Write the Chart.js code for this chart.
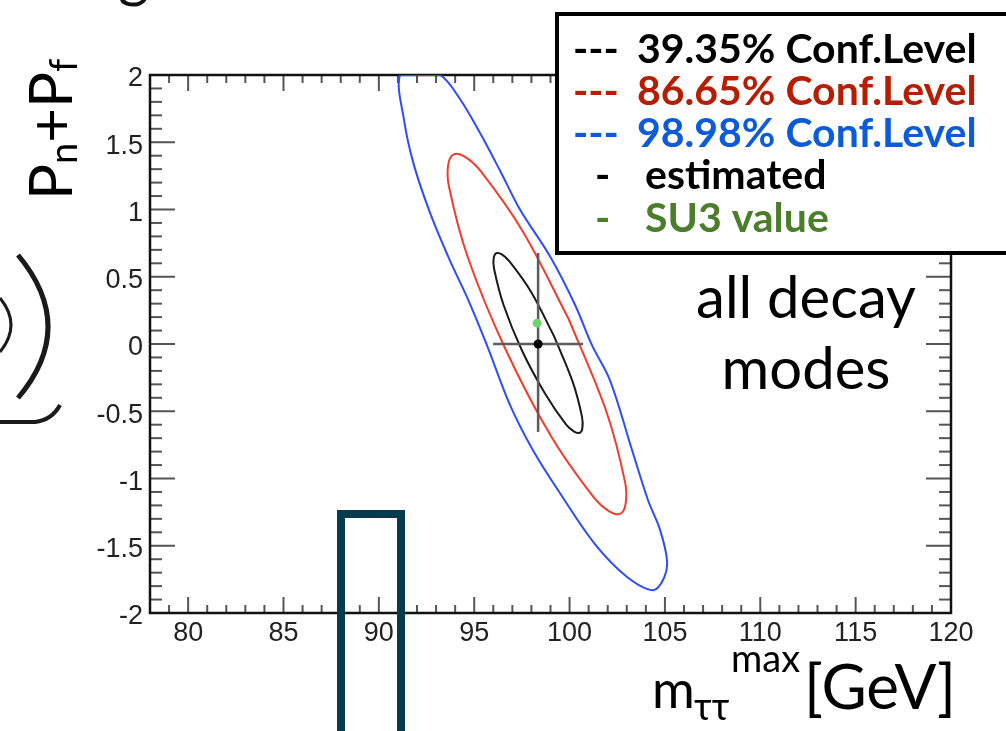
<!DOCTYPE html>
<html>
<head>
<meta charset="utf-8">
<script src="https://cdn.jsdelivr.net/npm/chart.js@4.4.1/dist/chart.umd.min.js"></script>
<style>
  html, body { margin: 0; padding: 0; background: #fff; }
  #wrap { width: 1006px; height: 731px; position: relative; overflow: hidden; }
</style>
</head>
<body>
<div id="wrap"><canvas id="contours" width="1006" height="731"></canvas></div>
<script>
// axis ranges and labelled ticks
const xRange = [78, 120];
const yRange = [-2, 2];
const xTicks = [80, 85, 90, 95, 100, 105, 110, 115, 120];
const yTicks = [-2, -1.5, -1, -0.5, 0, 0.5, 1, 1.5, 2];

// contour outlines, [m_tautau max (GeV), Pn+Pf]
const cl39 = [
    [99.18, 0.06], [100.16, -0.28], [100.65, -0.54], [100.67, -0.627], [100.53, -0.66],
    [100.24, -0.651], [99.82, -0.60], [98.72, -0.37], [97.51, -0.05], [96.54, 0.29],
    [96.04, 0.56], [96.02, 0.638], [96.16, 0.675], [96.45, 0.666], [96.87, 0.61],
    [97.97, 0.39], [99.18, 0.06]
];
const cl86 = [
    [99.96, 0.184], [101.92, -0.498], [102.91, -1.027], [102.94, -1.187], [102.67, -1.261],
    [102.08, -1.244], [101.25, -1.137], [99.04, -0.688], [96.63, -0.035], [94.66, 0.647],
    [93.67, 1.175], [93.64, 1.336], [93.92, 1.41], [94.50, 1.393], [95.34, 1.285],
    [97.55, 0.837], [99.96, 0.184]
];
// runs off the top of the frame, so it closes along Pn+Pf = 2
const cl98 = [
    [92.16, 2.0], [91.11, 2.0], [91.32, 1.665], [91.84, 1.33], [92.70, 0.97],
    [93.73, 0.62], [94.68, 0.33], [95.67, -0.01], [96.88, -0.455], [98.08, -0.79],
    [99.50, -1.11], [101.34, -1.49], [103.0, -1.73], [104.38, -1.83], [104.95, -1.74],
    [105.11, -1.61], [104.74, -1.38], [104.11, -1.16], [103.28, -0.79], [102.12, -0.27],
    [101.18, -0.01], [100.29, 0.29], [98.98, 0.65], [97.40, 1.00], [96.35, 1.29],
    [95.30, 1.57], [94.26, 1.82], [93.21, 2.0], [92.16, 2.0]
];

// best estimate with its error bars, and the SU3 point
const estimated = [98.35, 0.0];
const estXErr = [95.99, 100.71];
const estYErr = [-0.654, 0.677];
const su3 = [98.3, 0.155];

const levelLabels = ['39.35% Conf.Level', '86.65% Conf.Level', '98.98% Conf.Level'];
const levelColors = ['#000000', '#b51e02', '#0c5bd8'];
const pointLabels = ['estimated', 'SU3 value'];
const pointColors = ['#000000', '#4b7d2b'];

const xy = pts => pts.map(p => ({x: p[0], y: p[1]}));

function contour(label, pts, color) {
    return {
        label: label, data: xy(pts), showLine: true, borderColor: color,
        borderWidth: 2, pointRadius: 0, tension: 0.35, fill: false, order: 3
    };
}

function bar(pts) {
    return {
        data: xy(pts), showLine: true, borderColor: '#5c5c5c', borderWidth: 2.5,
        pointRadius: 0, tension: 0, order: 2
    };
}

function line(ctx, x1, y1, x2, y2) {
    ctx.beginPath();
    ctx.moveTo(x1, y1);
    ctx.lineTo(x2, y2);
    ctx.stroke();
}

const decorations = {
    id: 'decorations',
    beforeDatasetsDraw(chart) {
        const {ctx, chartArea: a, scales: {x, y}} = chart;
        ctx.save();
        ctx.strokeStyle = '#555';
        ctx.lineWidth = 2;
        // minor every 1 GeV, major every 5
        for (let v = xRange[0]; v <= xRange[1]; v++) {
            const px = x.getPixelForValue(v);
            const len = v % 5 === 0 ? 16 : 8;
            line(ctx, px, a.bottom, px, a.bottom - len);
            line(ctx, px, a.top, px, a.top + len);
        }
        for (let i = yRange[0] * 10; i <= yRange[1] * 10; i++) {
            const py = y.getPixelForValue(i / 10);
            const len = i % 5 === 0 ? 25 : 12;
            line(ctx, a.left, py, a.left + len, py);
            line(ctx, a.right, py, a.right - len, py);
        }
        ctx.strokeStyle = '#111';
        ctx.lineWidth = 2.5;
        ctx.strokeRect(a.left, a.top, a.right - a.left, a.bottom - a.top);
        ctx.restore();
    },
    afterDraw(chart) {
        const ctx = chart.ctx;
        ctx.save();

        // legend box
        ctx.fillStyle = '#fff';
        ctx.fillRect(557, 14, 460, 239);
        ctx.strokeStyle = '#000';
        ctx.lineWidth = 4;
        ctx.strokeRect(557, 14, 470, 239);

        ctx.font = 'bold 41px Lato';
        ctx.textBaseline = 'alphabetic';
        ctx.textAlign = 'left';
        const rows = [63, 105, 147, 189, 232];
        levelLabels.forEach((t, i) => {
            ctx.fillStyle = levelColors[i];
            ctx.fillText('---', 573, rows[i]);
            ctx.fillText(t, 637, rows[i]);
        });
        pointLabels.forEach((t, i) => {
            ctx.fillStyle = pointColors[i];
            ctx.fillText('-', 595, rows[i + 3]);
            ctx.fillText(t, 645, rows[i + 3]);
        });

        // channel note
        ctx.fillStyle = '#000';
        ctx.textAlign = 'center';
        ctx.font = '58px Lato';
        ctx.fillText('all decay', 806, 318);
        ctx.fillText('modes', 806, 389);

        // x title
        ctx.textAlign = 'left';
        ctx.font = '52px Lato';
        ctx.fillText('m', 652, 708);
        ctx.font = '38px Lato';
        ctx.fillText('ττ', 694, 720);
        ctx.fillText('max', 731, 672);
        ctx.font = '62px Lato';
        ctx.fillText('[GeV]', 804, 709);

        // y title, read bottom to top
        ctx.translate(72, 200);
        ctx.rotate(-Math.PI / 2);
        let cy = 0;
        const parts = [['P', 60, 0], ['n', 38, 5], ['+', 60, 0], ['P', 60, 0], ['f', 38, 5]];
        parts.forEach(([t, s, dy]) => {
            ctx.font = s + 'px Lato';
            ctx.fillText(t, cy, dy);
            cy += ctx.measureText(t).width;
        });
        ctx.setTransform(1, 0, 0, 1, 0, 0);

        // slide overlay: box around the Z mass region
        ctx.strokeStyle = '#073a4c';
        ctx.lineWidth = 8;
        ctx.beginPath();
        ctx.moveTo(341, 740);
        ctx.lineTo(341, 514);
        ctx.lineTo(401, 514);
        ctx.lineTo(401, 740);
        ctx.stroke();

        // slide overlay: clipped equation glyphs on the left edge
        ctx.strokeStyle = '#1a1a1a';
        ctx.lineWidth = 5;
        ctx.beginPath();
        ctx.moveTo(18, 255);
        ctx.quadraticCurveTo(78, 327, 18, 398);
        ctx.stroke();
        ctx.lineWidth = 3;
        ctx.beginPath();
        ctx.moveTo(0, 298);
        ctx.quadraticCurveTo(22, 325, 0, 352);
        ctx.stroke();
        ctx.lineWidth = 4;
        ctx.beginPath();
        ctx.moveTo(0, 422);
        ctx.lineTo(35, 422);
        ctx.quadraticCurveTo(52, 420, 60, 405);
        ctx.stroke();
        ctx.fillStyle = '#111';
        ctx.font = '60px Lato';
        ctx.fillText('g', 118, -4);

        ctx.restore();
    }
};

new Chart(document.getElementById('contours'), {
    type: 'scatter',
    data: {
        datasets: [
            {label: pointLabels[0], data: xy([estimated]), pointRadius: 4.5, backgroundColor: '#000',
             borderWidth: 0, order: 0},
            {label: pointLabels[1], data: xy([su3]), pointRadius: 4.5, backgroundColor: '#6fd46a',
             borderWidth: 0, order: 1},
            bar([[estXErr[0], estimated[1]], [estXErr[1], estimated[1]]]),
            bar([[estimated[0], estYErr[0]], [estimated[0], estYErr[1]]]),
            contour(levelLabels[0], cl39, '#1a1a1a'),
            contour(levelLabels[1], cl86, '#f43c2c'),
            contour(levelLabels[2], cl98, '#2e4cff')
        ]
    },
    options: {
        responsive: false,
        animation: false,
        devicePixelRatio: 1,
        layout: {padding: {left: 80, right: 55, top: 75, bottom: 73}},
        plugins: {legend: {display: false}, tooltip: {enabled: false}},
        scales: {
            x: {
                type: 'linear', min: xRange[0], max: xRange[1],
                grid: {display: false, drawTicks: false}, border: {display: false},
                afterBuildTicks: s => { s.ticks = xTicks.map(v => ({value: v})); },
                afterFit: s => { s.height = 45; },
                ticks: {
                    font: {family: 'Liberation Sans', size: 27}, color: '#222',
                    padding: 4, maxRotation: 0, autoSkip: false, callback: v => String(v)
                }
            },
            y: {
                type: 'linear', min: yRange[0], max: yRange[1],
                grid: {display: false, drawTicks: false}, border: {display: false},
                afterBuildTicks: s => { s.ticks = yTicks.map(v => ({value: v})); },
                afterFit: s => { s.width = 70; },
                ticks: {
                    font: {family: 'Liberation Sans', size: 27}, color: '#222',
                    padding: 7, labelOffset: 4, autoSkip: false, callback: v => String(v)
                }
            }
        }
    },
    plugins: [decorations]
});
</script>
</body>
</html>
